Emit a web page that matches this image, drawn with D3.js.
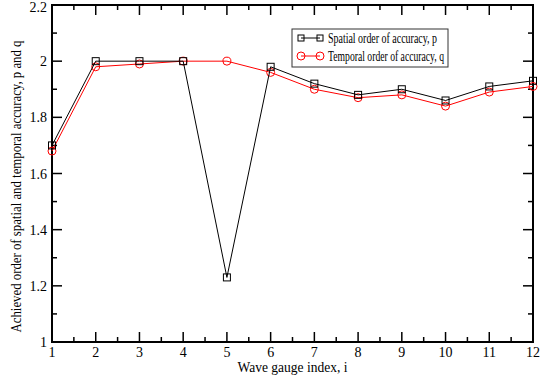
<!DOCTYPE html>
<html>
<head>
<meta charset="utf-8">
<script src="https://d3js.org/d3.v7.min.js"></script>
<style>
body { margin: 0; background: #fff; }
text { font-family: "Liberation Serif", "Times New Roman", Times, serif; }
</style>
</head>
<body>
<svg id="chart" width="551" height="379"></svg>
<script>
const gauges = [1, 2, 3, 4, 5, 6, 7, 8, 9, 10, 11, 12];
const spatialP = [1.70, 2.00, 2.00, 2.00, 1.23, 1.98, 1.92, 1.88, 1.90, 1.86, 1.91, 1.93];
const temporalQ = [1.68, 1.98, 1.99, 2.00, 2.00, 1.96, 1.90, 1.87, 1.88, 1.84, 1.89, 1.91];
const yTicks = [1, 1.2, 1.4, 1.6, 1.8, 2, 2.2];
const seriesNames = ["Spatial order of accuracy, p", "Temporal order of accuracy, q"];

const svg = d3.select("#chart");
const L = 52, R = 533, T = 5, B = 342;

const x = d3.scaleLinear().domain([1, 12]).range([L, R]);
const y = d3.scaleLinear().domain([1, 2.2]).range([B, T]);

const xMinor = d3.range(1.5, 12, 1);
const yMinor = d3.range(1.1, 2.2, 0.2);

// squeeze a text to a width if the fallback font runs wider than Times
function fit(sel, w) {
  const n = sel.node();
  if (n.getComputedTextLength() > w) {
    sel.attr("textLength", w).attr("lengthAdjust", "spacingAndGlyphs");
  }
  return sel;
}

// ticks drawn inward on all four sides
function ticks(g, scale, vals, len, side) {
  vals.forEach(v => {
    const p = scale(v);
    if (side === "bottom") g.append("line").attr("x1", p).attr("x2", p).attr("y1", B).attr("y2", B - len);
    if (side === "top") g.append("line").attr("x1", p).attr("x2", p).attr("y1", T).attr("y2", T + len);
    if (side === "left") g.append("line").attr("y1", p).attr("y2", p).attr("x1", L).attr("x2", L + len);
    if (side === "right") g.append("line").attr("y1", p).attr("y2", p).attr("x1", R).attr("x2", R - len);
  });
}
const tg = svg.append("g").attr("stroke", "#000").attr("stroke-width", 1.5);
ticks(tg, x, gauges.slice(1, -1), 10, "bottom");
ticks(tg, x, gauges.slice(1, -1), 10, "top");
ticks(tg, x, xMinor, 5, "bottom");
ticks(tg, x, xMinor, 5, "top");
ticks(tg, y, yTicks.slice(1, -1), 10, "left");
ticks(tg, y, yTicks.slice(1, -1), 10, "right");
ticks(tg, y, yMinor, 5, "left");
ticks(tg, y, yMinor, 5, "right");

svg.append("rect")
  .attr("x", L).attr("y", T).attr("width", R - L).attr("height", B - T)
  .attr("fill", "none").attr("stroke", "#000").attr("stroke-width", 2);

// tick labels
svg.append("g").selectAll("text").data(gauges).join("text")
  .attr("x", d => x(d)).attr("y", B + 15)
  .attr("text-anchor", "middle").attr("font-size", 14)
  .text(d => d);
svg.append("g").selectAll("text").data(yTicks).join("text")
  .attr("x", L - 5).attr("y", d => Math.max(y(d) + 5, 12))
  .attr("text-anchor", "end").attr("font-size", 14)
  .text(d => d3.format("~g")(d));

fit(svg.append("text")
  .attr("x", (L + R) / 2).attr("y", 372)
  .attr("text-anchor", "middle").attr("font-size", 14)
  .text("Wave gauge index, i"), 110);
fit(svg.append("text")
  .attr("transform", `translate(21, ${(T + B) / 2 + 13}) rotate(-90)`)
  .attr("text-anchor", "middle").attr("font-size", 14)
  .text("Achieved order of spatial and temporal accuracy, p and q"), 292);

const line = d3.line().x((d, i) => x(gauges[i])).y(d => y(d));

// q series (red circles)
svg.append("path").datum(temporalQ).attr("d", line)
  .attr("fill", "none").attr("stroke", "#ff0000").attr("stroke-width", 1);
svg.append("g").selectAll("circle").data(temporalQ).join("circle")
  .attr("cx", (d, i) => x(gauges[i])).attr("cy", d => y(d)).attr("r", 4)
  .attr("fill", "none").attr("stroke", "#ff0000").attr("stroke-width", 1);

// p series (black squares)
svg.append("path").datum(spatialP).attr("d", line)
  .attr("fill", "none").attr("stroke", "#000").attr("stroke-width", 1);
svg.append("g").selectAll("rect").data(spatialP).join("rect")
  .attr("x", (d, i) => x(gauges[i]) - 3.5).attr("y", d => y(d) - 3.5)
  .attr("width", 7).attr("height", 7)
  .attr("fill", "none").attr("stroke", "#000").attr("stroke-width", 1);

// legend
const lg = svg.append("g");
lg.append("rect").attr("x", 292).attr("y", 29).attr("width", 156).attr("height", 38)
  .attr("fill", "#fff").attr("stroke", "#333").attr("stroke-width", 1);
const lRows = [
  { name: seriesNames[0], color: "#000", shape: "square", yy: 38, w: 109 },
  { name: seriesNames[1], color: "#ff0000", shape: "circle", yy: 56, w: 116 }
];
lRows.forEach(r => {
  lg.append("line").attr("x1", 301).attr("x2", 320).attr("y1", r.yy).attr("y2", r.yy)
    .attr("stroke", r.color).attr("stroke-width", 1);
  [301, 320].forEach(px => {
    if (r.shape === "square") {
      lg.append("rect").attr("x", px - 3).attr("y", r.yy - 3).attr("width", 6).attr("height", 6)
        .attr("fill", "none").attr("stroke", r.color);
    } else {
      lg.append("circle").attr("cx", px).attr("cy", r.yy).attr("r", 4)
        .attr("fill", "none").attr("stroke", r.color);
    }
  });
  fit(lg.append("text").attr("x", 328).attr("y", r.yy + 4.5).attr("font-size", 14).text(r.name), r.w);
});
</script>
</body>
</html>
